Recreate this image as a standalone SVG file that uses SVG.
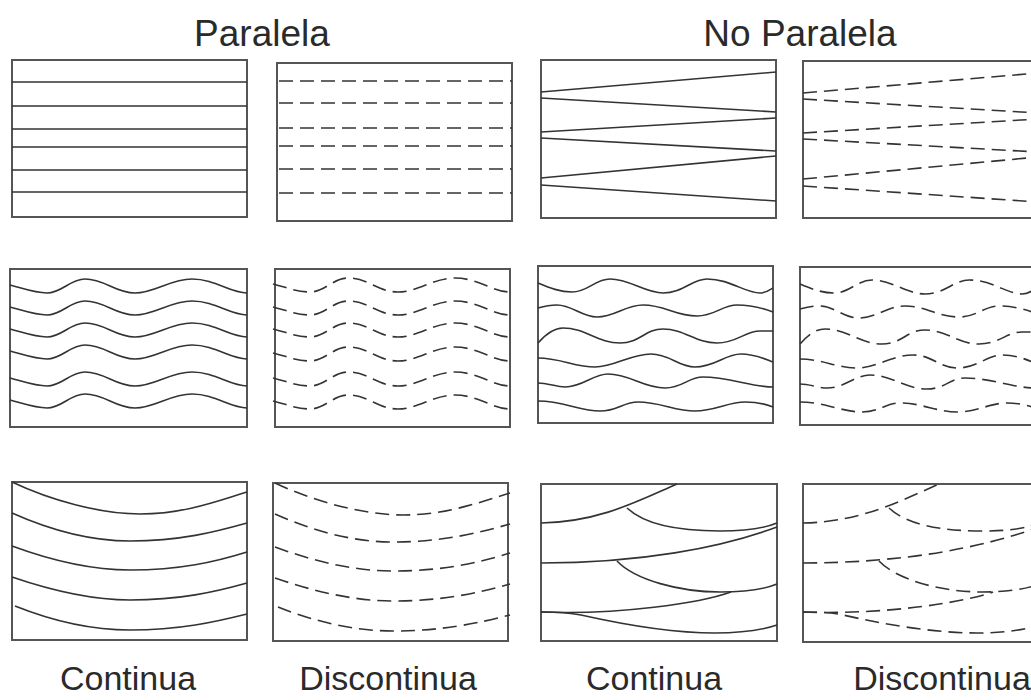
<svg xmlns="http://www.w3.org/2000/svg" xmlns:xlink="http://www.w3.org/1999/xlink" width="1031" height="700" viewBox="0 0 1031 700">
<style>
.bg{fill:#ffffff}
.box{fill:none;stroke:#555555;stroke-width:2}
.ln{fill:none;stroke:#333333;stroke-width:1.6}
.dl{fill:none;stroke:#333333;stroke-width:1.6;stroke-dasharray:14 7}
.t{font-family:"Liberation Sans",Arial,sans-serif;fill:#2a2a2a;text-anchor:middle}
.title{font-size:37px}
.label{font-size:34px}
</style>
<defs>
<path id="wave" d="M0,0 C15,4 25,8 37,8 C52,8 60,-6 75,-6 C95,-6 105,8 125,8 C145,8 160,-6 182,-6 C205,-6 220,8 237,8"/>
<g id="nonParWaves">
<path d="M0,17 C12,22 22,26 34,26 C50,26 57,13 72,13 C92,13 107,27 125,27 C145,27 154,13 169,13 C192,13 207,27 222,27 C228,27 232,24 235,22"/>
<path d="M0,42 C7,40 12,39 19,39 C34,39 44,51 59,51 C77,51 87,39 105,39 C127,39 137,50 159,50 C177,50 184,39 199,39 C214,39 227,43 235,46"/>
<path d="M0,77 C7,69 15,62 25,62 C47,62 60,77 82,77 C102,77 107,63 125,63 C147,63 157,77 179,77 C199,77 207,65 222,65 L235,65"/>
<path d="M0,92 C22,92 37,101 57,101 C77,101 92,88 113,88 C132,88 140,101 157,101 C177,101 187,88 203,88 C217,88 227,93 235,96"/>
<path d="M0,117 C10,117 18,121 27,121 C45,121 55,108 70,108 C92,108 105,122 127,122 C145,122 150,111 165,111 C190,111 215,121 235,121"/>
<path d="M0,135 C25,135 42,145 62,145 C80,145 85,136 100,136 C122,136 137,145 157,145 C177,145 190,136 207,136 C220,136 230,139 235,141"/>
</g>
<g id="nonParCurves">
<path d="M0,39 C59,38 99,16 136,0"/>
<path d="M86,24 C104,41 139,47 179,47 C209,47 224,44 236,39"/>
<path d="M0,79 C99,79 179,64 236,43"/>
<path d="M76,77 C94,96 139,108 179,108 C204,108 224,105 236,100"/>
<path d="M0,128 C79,131 159,119 190,108"/>
<path d="M0,128 C20,128 30,129 40,131 C80,140 130,149 174,149 C204,149 224,145 236,141"/>
</g>
<g id="parCurves">
<path d="M0,0 C38,18 88,32 128,32 C173,32 208,18 235,10"/>
<path d="M0,31 C38,48 78,59 118,59 C168,59 203,50 235,41"/>
<path d="M0,64 C38,78 78,88 118,88 C168,88 203,80 235,70"/>
<path d="M0,95 C38,108 78,118 118,118 C168,118 203,110 235,101"/>
<path d="M3,124 C38,138 78,148 118,148 C168,148 203,140 235,132"/>
</g>
<g id="fan">
<path d="M0,32 L235,12"/>
<path d="M0,38 L235,52"/>
<path d="M0,72 L235,58"/>
<path d="M0,78 L235,91"/>
<path d="M0,118 L235,96"/>
<path d="M0,125 L235,141"/>
</g>
</defs>
<rect class="bg" x="0" y="0" width="1031" height="700"/>

<g id="titles">
<text class="t title" x="262" y="46">Paralela</text>
<text class="t title" x="800" y="46">No Paralela</text>
</g>

<g id="panel-par-cont-straight">
<rect class="box" x="12" y="60" width="235" height="157"/>
<path class="ln" d="M12,82 H247 M12,106 H247 M12,129 H247 M12,147 H247 M12,170 H247 M12,192 H247"/>
</g>
<g id="panel-par-disc-straight">
<rect class="box" x="277" y="63" width="235" height="158"/>
<path class="dl" d="M279,81 H512 M279,103 H512 M279,128 H512 M279,146 H512 M279,169 H512 M279,193 H512"/>
</g>
<g id="panel-nopar-cont-straight">
<rect class="box" x="541" y="60" width="235" height="158"/>
<use href="#fan" xlink:href="#fan" class="ln" transform="translate(541,60)"/>
</g>
<g id="panel-nopar-disc-straight">
<rect class="box" x="803" y="61" width="235" height="157"/>
<use href="#fan" xlink:href="#fan" class="dl" transform="translate(803,61)"/>
</g>

<g id="panel-par-cont-wave">
<rect class="box" x="10" y="269" width="237" height="158"/>
<g class="ln">
<use href="#wave" xlink:href="#wave" transform="translate(10,285)"/>
<use href="#wave" xlink:href="#wave" transform="translate(10,307)"/>
<use href="#wave" xlink:href="#wave" transform="translate(10,329)"/>
<use href="#wave" xlink:href="#wave" transform="translate(10,351)"/>
<use href="#wave" xlink:href="#wave" transform="translate(10,378)"/>
<use href="#wave" xlink:href="#wave" transform="translate(10,400)"/>
</g>
</g>
<g id="panel-par-disc-wave">
<rect class="box" x="275" y="269" width="235" height="158"/>
<g class="dl">
<use href="#wave" xlink:href="#wave" transform="translate(273,284)"/>
<use href="#wave" xlink:href="#wave" transform="translate(273,307)"/>
<use href="#wave" xlink:href="#wave" transform="translate(273,329)"/>
<use href="#wave" xlink:href="#wave" transform="translate(273,353)"/>
<use href="#wave" xlink:href="#wave" transform="translate(273,378)"/>
<use href="#wave" xlink:href="#wave" transform="translate(273,401)"/>
</g>
</g>
<g id="panel-nopar-cont-wave">
<rect class="box" x="538" y="266" width="235" height="157"/>
<use href="#nonParWaves" xlink:href="#nonParWaves" class="ln" transform="translate(538,266)"/>
</g>
<g id="panel-nopar-disc-wave">
<rect class="box" x="800" y="267" width="235" height="158"/>
<use href="#nonParWaves" xlink:href="#nonParWaves" class="dl" transform="translate(800,267)"/>
</g>

<g id="panel-par-cont-curve">
<rect class="box" x="12" y="482" width="235" height="158"/>
<use href="#parCurves" xlink:href="#parCurves" class="ln" transform="translate(12,482)"/>
</g>
<g id="panel-par-disc-curve">
<rect class="box" x="273" y="483" width="235" height="158"/>
<use href="#parCurves" xlink:href="#parCurves" class="dl" transform="translate(275,483)"/>
</g>
<g id="panel-nopar-cont-curve">
<rect class="box" x="541" y="484" width="236" height="157"/>
<use href="#nonParCurves" xlink:href="#nonParCurves" class="ln" transform="translate(541,484)"/>
</g>
<g id="panel-nopar-disc-curve">
<rect class="box" x="803" y="484" width="236" height="158"/>
<use href="#nonParCurves" xlink:href="#nonParCurves" class="dl" transform="translate(803,484)"/>
</g>

<g id="labels">
<text class="t label" x="128" y="690">Continua</text>
<text class="t label" x="388" y="690">Discontinua</text>
<text class="t label" x="654" y="690">Continua</text>
<text class="t label" x="942" y="690">Discontinua</text>
</g>
</svg>
